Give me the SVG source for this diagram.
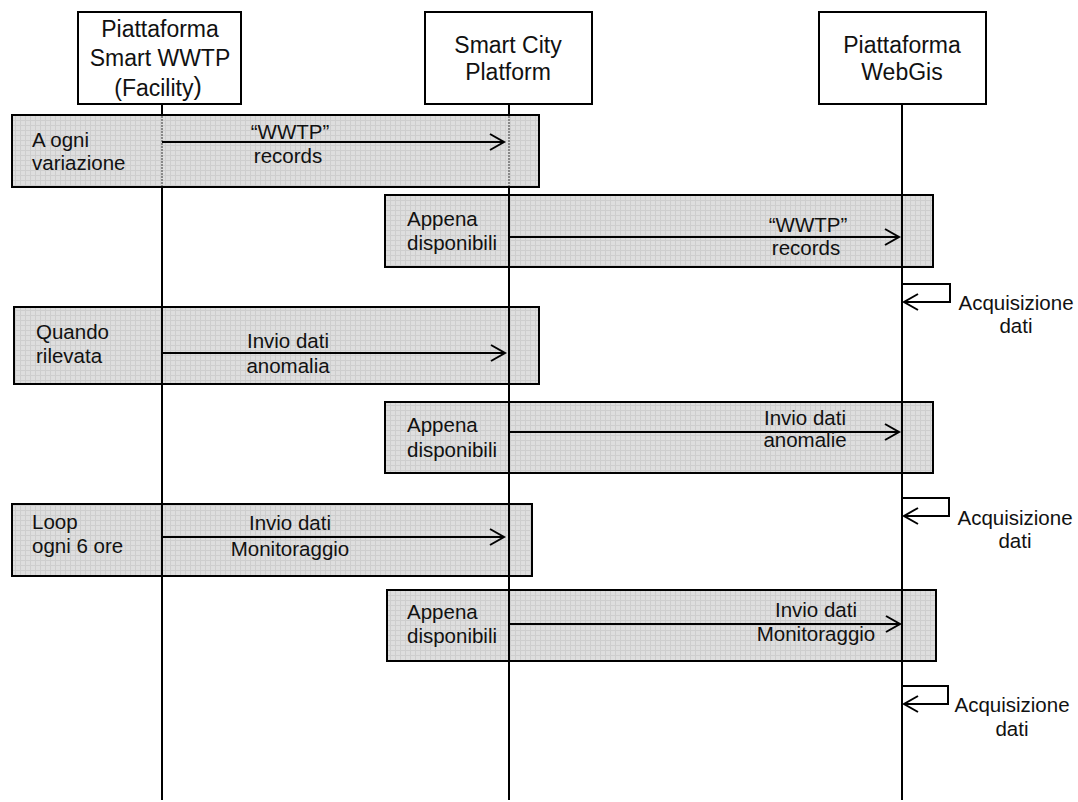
<svg xmlns="http://www.w3.org/2000/svg" width="1078" height="802" viewBox="0 0 1078 802">
  <style>
    text { font-family: "Liberation Sans", Arial, sans-serif; fill: #111; }
    .hdr { font-size: 23px; text-anchor: middle; }
    .lbl { font-size: 20.5px; }
    .mid { text-anchor: middle; }
    .box { fill: #fff; stroke: #000; stroke-width: 2; }
    .frame { fill: url(#grid); stroke: #000; stroke-width: 2; }
    .life { stroke: #000; stroke-width: 2; fill: none; }
    .msg { stroke: #000; stroke-width: 2; fill: none; }
    .head { stroke: #000; stroke-width: 2; fill: none; stroke-linejoin: miter; }
  </style>
  <defs>
    <pattern id="grid" width="5" height="5" patternUnits="userSpaceOnUse">
      <rect width="5" height="5" fill="#dedede"/>
      <path d="M0 0.5H5M0.5 0V5" stroke="#cecece" stroke-width="1"/>
    </pattern>
  </defs>
  <rect width="1078" height="802" fill="#fff"/>

  <!-- lifelines -->
  <g id="lifelines">
    <line class="life" x1="162" y1="104" x2="162" y2="800"/>
    <line class="life" x1="509" y1="104" x2="509" y2="800"/>
    <line class="life" x1="902" y1="104" x2="902" y2="800"/>
  </g>

  <!-- participants -->
  <g id="wwtp">
    <rect class="box" x="78" y="12" width="163" height="92"/>
    <text class="hdr" x="160" y="37">Piattaforma</text>
    <text class="hdr" x="160" y="66">Smart WWTP</text>
    <text class="hdr" x="158" y="96">(Facility<tspan font-size="25" dy="-1">)</tspan></text>
  </g>
  <g id="smartcity">
    <rect class="box" x="425" y="12" width="167" height="92"/>
    <text class="hdr" x="508" y="53">Smart City</text>
    <text class="hdr" x="508" y="80">Platform</text>
  </g>
  <g id="webgis">
    <rect class="box" x="819" y="12" width="167" height="92"/>
    <text class="hdr" x="902" y="53">Piattaforma</text>
    <text class="hdr" x="902" y="80">WebGis</text>
  </g>

  <!-- activity frames -->
  <g id="frame1">
    <rect class="frame" x="12" y="115" width="527" height="72"/>
    <line x1="162" y1="116" x2="162" y2="186" stroke="#888" stroke-width="2" stroke-dasharray="2 1"/>
    <line x1="509" y1="116" x2="509" y2="186" stroke="#888" stroke-width="2" stroke-dasharray="2 1"/>
    <text class="lbl" x="32" y="147">A ogni</text>
    <text class="lbl" x="32" y="170">variazione</text>
  </g>
  <g id="frame2">
    <rect class="frame" x="385" y="195" width="548" height="72"/>
    <line class="life" x1="509" y1="195" x2="509" y2="267"/>
    <line class="life" x1="902" y1="195" x2="902" y2="267"/>
    <text class="lbl" x="407" y="226">Appena</text>
    <text class="lbl" x="407" y="250">disponibili</text>
  </g>
  <g id="frame3">
    <rect class="frame" x="14" y="307" width="525" height="77"/>
    <line class="life" x1="162" y1="307" x2="162" y2="384"/>
    <line class="life" x1="509" y1="307" x2="509" y2="384"/>
    <text class="lbl" x="36" y="339">Quando</text>
    <text class="lbl" x="36" y="363">rilevata</text>
  </g>
  <g id="frame4">
    <rect class="frame" x="385" y="402" width="548" height="71"/>
    <line class="life" x1="509" y1="402" x2="509" y2="473"/>
    <line class="life" x1="902" y1="402" x2="902" y2="473"/>
    <text class="lbl" x="407" y="432">Appena</text>
    <text class="lbl" x="407" y="457">disponibili</text>
  </g>
  <g id="frame5">
    <rect class="frame" x="12" y="504" width="520" height="72"/>
    <line class="life" x1="162" y1="504" x2="162" y2="576"/>
    <line class="life" x1="509" y1="504" x2="509" y2="576"/>
    <text class="lbl" x="32" y="529">Loop</text>
    <text class="lbl" x="32" y="553">ogni 6 ore</text>
  </g>
  <g id="frame6">
    <rect class="frame" x="387" y="590" width="549" height="71"/>
    <line class="life" x1="509" y1="590" x2="509" y2="661"/>
    <line class="life" x1="902" y1="590" x2="902" y2="661"/>
    <text class="lbl" x="407" y="619">Appena</text>
    <text class="lbl" x="407" y="643">disponibili</text>
  </g>

  <!-- messages -->
  <g id="connectors">
    <line class="msg" x1="162" y1="142" x2="504" y2="142"/>
    <polyline class="head" points="490,134 504,142 490,150"/>
    <text class="lbl mid" x="290" y="139">“WWTP”</text>
    <text class="lbl mid" x="288" y="163">records</text>

    <line class="msg" x1="509" y1="237" x2="899" y2="237"/>
    <polyline class="head" points="885,229 899,237 885,245"/>
    <text class="lbl mid" x="808" y="232">“WWTP”</text>
    <text class="lbl mid" x="806" y="255">records</text>

    <polyline class="msg" points="902,284 950,284 950,302 904,302"/>
    <polyline class="head" points="918,294 904,302 918,310"/>
    <text class="lbl mid" x="1016" y="310">Acquisizione</text>
    <text class="lbl mid" x="1016" y="333">dati</text>

    <line class="msg" x1="162" y1="353" x2="505" y2="353"/>
    <polyline class="head" points="491,345 505,353 491,361"/>
    <text class="lbl mid" x="288" y="348">Invio dati</text>
    <text class="lbl mid" x="288" y="373">anomalia</text>

    <line class="msg" x1="509" y1="432" x2="899" y2="432"/>
    <polyline class="head" points="885,424 899,432 885,440"/>
    <text class="lbl mid" x="805" y="425">Invio dati</text>
    <text class="lbl mid" x="805" y="447">anomalie</text>

    <polyline class="msg" points="902,498 949,498 949,516 904,516"/>
    <polyline class="head" points="918,508 904,516 918,524"/>
    <text class="lbl mid" x="1015" y="525">Acquisizione</text>
    <text class="lbl mid" x="1015" y="548">dati</text>

    <line class="msg" x1="162" y1="537" x2="504" y2="537"/>
    <polyline class="head" points="490,529 504,537 490,545"/>
    <text class="lbl mid" x="290" y="530">Invio dati</text>
    <text class="lbl mid" x="290" y="556">Monitoraggio</text>

    <line class="msg" x1="509" y1="624" x2="900" y2="624"/>
    <polyline class="head" points="886,616 900,624 886,632"/>
    <text class="lbl mid" x="816" y="617">Invio dati</text>
    <text class="lbl mid" x="816" y="641">Monitoraggio</text>

    <polyline class="msg" points="902,686 948,686 948,704 904,704"/>
    <polyline class="head" points="918,696 904,704 918,712"/>
    <text class="lbl mid" x="1012" y="712">Acquisizione</text>
    <text class="lbl mid" x="1012" y="736">dati</text>
  </g>
</svg>
